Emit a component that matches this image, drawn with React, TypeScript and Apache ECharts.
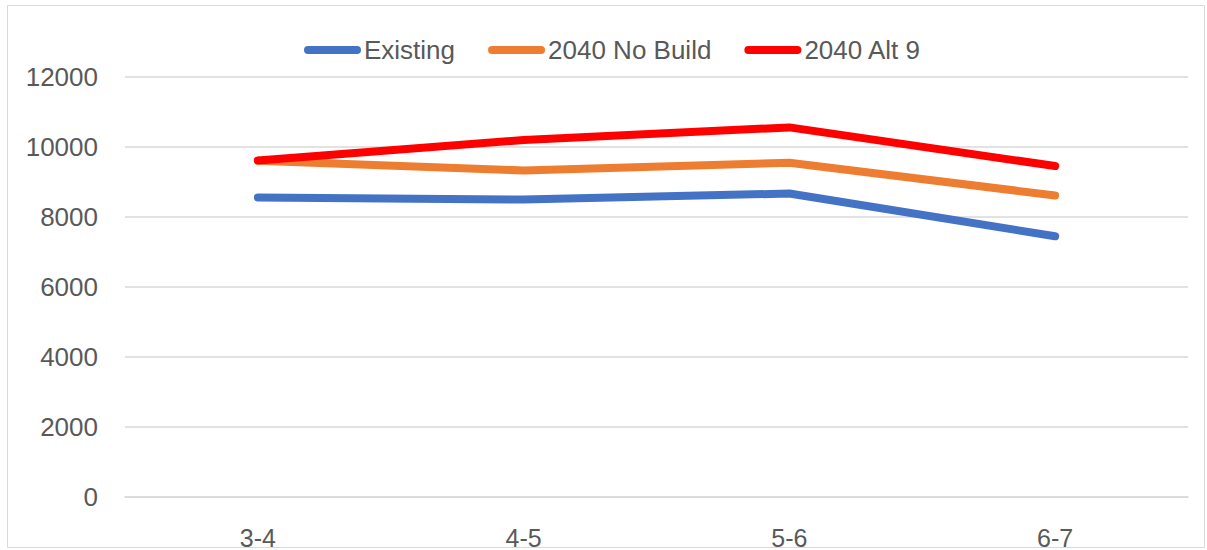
import React, { useEffect, useRef } from "react";
import * as echarts from "echarts";

const categories = ["3-4", "4-5", "5-6", "6-7"];
const existing = [8560, 8500, 8670, 7450];
const noBuild = [9610, 9330, 9550, 8615];
const alt9 = [9615, 10200, 10560, 9455];
const seriesNames = ["Existing", "2040 No Build", "2040 Alt 9"];
const colors = ["#4472C4", "#ED7D31", "#FF0000"];

const FONT = "'Liberation Sans', Arial, sans-serif";
const TEXT = "#595959";

export default function App() {
  const ref = useRef<HTMLDivElement>(null);
  useEffect(() => {
    document.body.style.margin = "0";
    const chart = echarts.init(ref.current!, undefined, { renderer: "svg" });
    const data = [existing, noBuild, alt9];
    const icon = "path://M4,0 H53 A4,4 0 0 1 53,8 H4 A4,4 0 0 1 4,0 Z";
    chart.setOption({
      animation: false,
      backgroundColor: "#ffffff",
      color: colors,
      graphic: [
        {
          type: "rect",
          shape: { x: 7.5, y: 5.5, width: 1197, height: 542 },
          style: { fill: "none", stroke: "#d9d9d9", lineWidth: 1 },
          silent: true,
        },
      ],
      legend: {
        top: 32,
        left: 299,
        itemWidth: 57,
        itemHeight: 8,
        itemGap: 33,
        icon,
        textStyle: { fontFamily: FONT, fontSize: 26, color: TEXT, padding: [0, 0, 0, -2] },
        data: seriesNames,
      },
      grid: { left: 125, right: 19, top: 77, bottom: 53, containLabel: false },
      xAxis: {
        type: "category",
        data: categories,
        boundaryGap: true,
        axisTick: { show: false },
        axisLine: { show: true, lineStyle: { color: "#d9d9d9", width: 1.5 } },
        axisLabel: { fontFamily: FONT, fontSize: 25, color: TEXT, margin: 28, lineHeight: 25 },
      },
      yAxis: {
        type: "value",
        min: 0,
        max: 12000,
        interval: 2000,
        axisLine: { show: false },
        axisTick: { show: false },
        splitLine: { lineStyle: { color: "#d9d9d9", width: 1.5 } },
        axisLabel: {
          fontFamily: FONT,
          fontSize: 26,
          color: TEXT,
          margin: 27,
          formatter: (v: number) => String(v),
        },
      },
      series: seriesNames.map((name, i) => ({
        name,
        type: "line",
        data: data[i],
        symbol: "none",
        lineStyle: { width: 8, color: colors[i], cap: "round", join: "round" },
        itemStyle: { color: colors[i] },
      })),
    });
    return () => chart.dispose();
  }, []);
  return (
    <div
      ref={ref}
      style={{ position: "absolute", left: 0, top: 0, width: 1207, height: 550 }}
    />
  );
}
